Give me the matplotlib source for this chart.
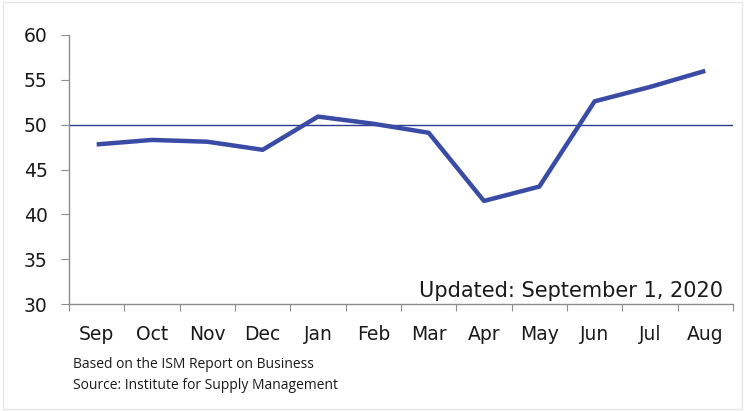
import matplotlib.pyplot as plt
from matplotlib.patches import Rectangle

meses = ['Sep', 'Oct', 'Nov', 'Dec', 'Jan', 'Feb', 'Mar', 'Apr', 'May', 'Jun', 'Jul', 'Aug']
pmi = [47.8, 48.3, 48.1, 47.2, 50.9, 50.1, 49.1, 41.5, 43.1, 52.6, 54.2, 56.0]
y_ticks = [30, 35, 40, 45, 50, 55, 60]
umbral = 50

fig = plt.figure(figsize=(7.46, 4.11), dpi=100)
ax = fig.add_axes([0.0925, 0.26, 0.890, 0.655])

x = list(range(len(meses)))
ax.plot(x, pmi, color='#3A4BA6', linewidth=3.2, solid_capstyle='butt', zorder=3)
ax.axhline(umbral, color='#2E3D91', linewidth=1.0, zorder=2)

ax.set_xlim(-0.5, len(meses) - 0.5)
ax.set_ylim(30, 60)
ax.set_yticks(y_ticks)
ax.set_xticks([i - 0.5 for i in range(len(meses) + 1)])
ax.set_xticklabels([])
ax.set_xticks(x, minor=True)
ax.set_xticklabels(meses, minor=True)
ax.tick_params(axis='x', which='minor', length=0, pad=15, labelsize=13.5, colors='#1a1a1a')
ax.tick_params(axis='x', which='major', length=5, color='#8c8c8c', direction='out')
ax.tick_params(axis='y', length=5.5, color='#8c8c8c', labelsize=13.5, labelcolor='#1a1a1a', pad=10)

for lado in ['top', 'right']:
    ax.spines[lado].set_visible(False)
for lado in ['left', 'bottom']:
    ax.spines[lado].set_color('#8c8c8c')
    ax.spines[lado].set_linewidth(1.0)

ax.text(0.985, 0.012, 'Updated: September 1, 2020', transform=ax.transAxes,
        ha='right', va='bottom', fontsize=15, color='#1a1a1a')

fig.text(0.098, 0.112, 'Based on the ISM Report on Business', fontsize=10,
         family='Open Sans', color='#1a1a1a', va='center')
fig.text(0.098, 0.061, 'Source: Institute for Supply Management', fontsize=10,
         family='Open Sans', color='#1a1a1a', va='center')

fig.patches.append(Rectangle((0.004, 0.004), 0.99, 0.992, transform=fig.transFigure,
                             fill=False, edgecolor='#e6e6e6', linewidth=1.0))

fig.savefig('out.png', dpi=100)
